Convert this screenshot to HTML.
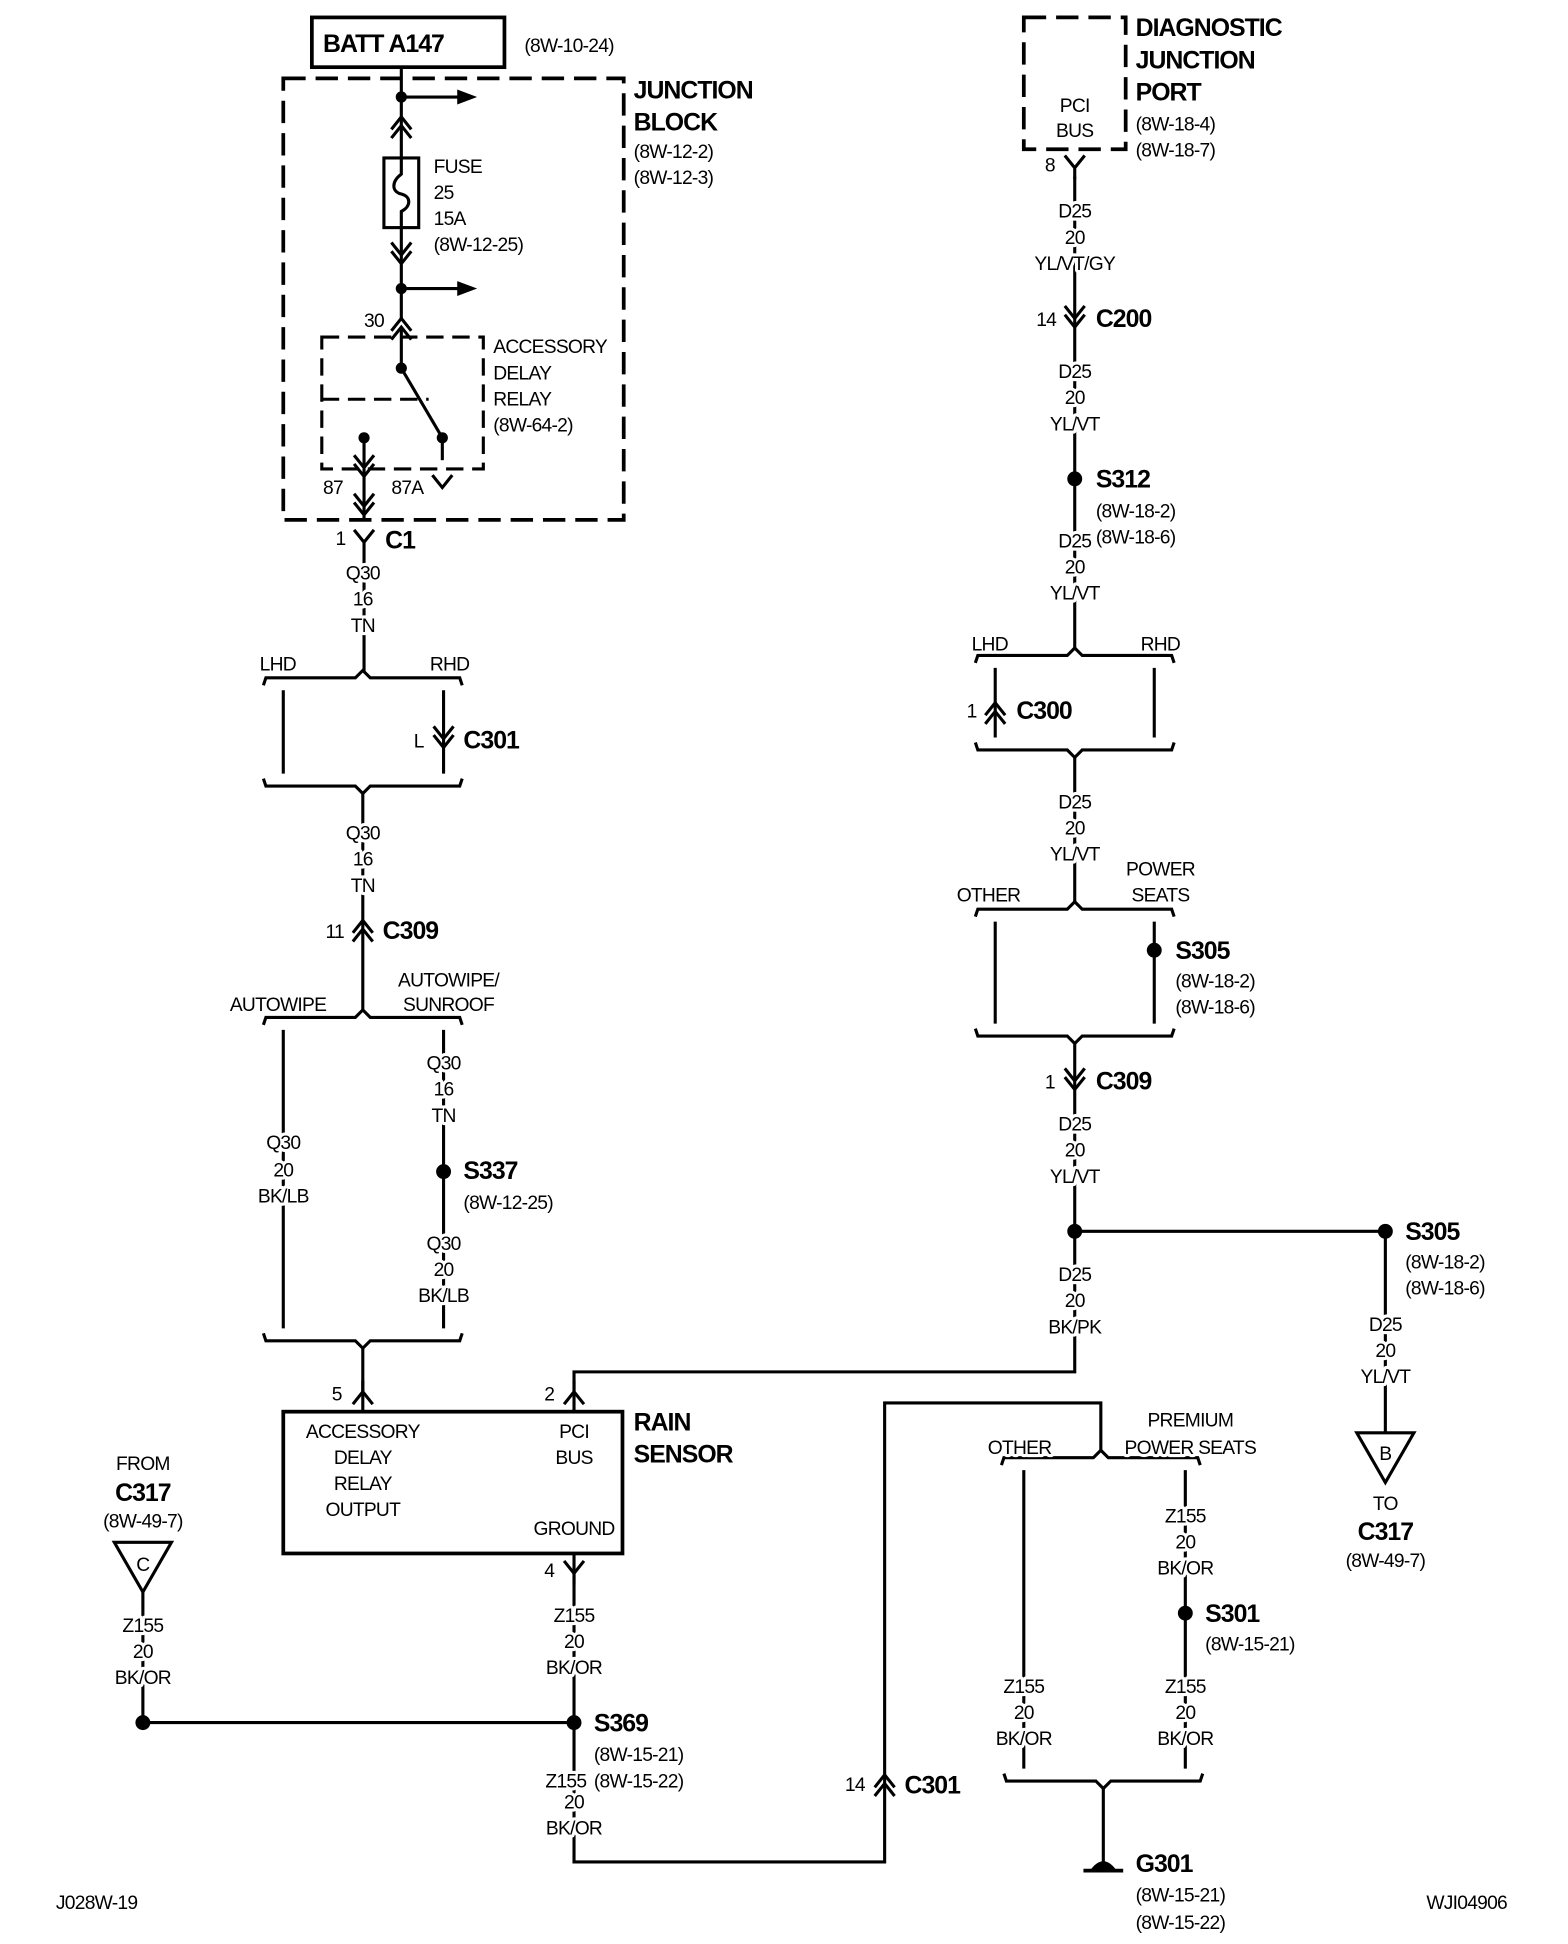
<!DOCTYPE html>
<html><head><meta charset="utf-8"><style>
html,body{margin:0;padding:0;background:#fff;}
svg{display:block;}
text{font-family:"Liberation Sans",Arial,sans-serif;font-size:15.5px;fill:#000;paint-order:stroke;stroke:#fff;stroke-width:5px;stroke-linejoin:round;letter-spacing:-0.6px;}
text.b{font-weight:bold;font-size:20px;letter-spacing:-0.8px;}
.c{text-anchor:middle;}
.w{fill:none;stroke:#000;stroke-width:2.5;}
.t{fill:none;stroke:#000;stroke-width:3;}
</style></head><body>
<svg width="1568" height="1944" viewBox="0 0 1262 1563" preserveAspectRatio="none" xmlns="http://www.w3.org/2000/svg">
<defs>
<g id="dup"><path class="w" d="M-8,4 L0,-6 L8,4 M-8,11 L0,1 L8,11"/></g>
<g id="ddn"><path class="w" d="M-8,-4 L0,6 L8,-4 M-8,-11 L0,-1 L8,-11"/></g>
<g id="yc"><path class="w" d="M-8,-7 L0,3 L8,-7 M0,3 L0,12"/></g>
<g id="yu"><path class="w" d="M-8,7 L0,-3 L8,7 M0,-3 L0,-12"/></g>
<g id="brT"><path class="w" d="M-80,6 L-78,0 L-6,0 L0,-6 L6,0 L78,0 L80,6"/></g>
<g id="brB"><path class="w" d="M-80,-6 L-78,0 L-6,0 L0,6 L6,0 L78,0 L80,-6"/></g>
</defs>

<rect x="251" y="14" width="155" height="40" class="t"/>
<text class="b" x="260" y="42">BATT A147</text>
<text x="422" y="42">(8W-10-24)</text>
<rect x="228" y="63" width="274" height="355" fill="none" stroke="#000" stroke-width="3" stroke-dasharray="18,8"/>
<text class="b" x="510" y="79">JUNCTION</text>
<text class="b" x="510" y="105">BLOCK</text>
<text x="510" y="127">(8W-12-2)</text>
<text x="510" y="148">(8W-12-3)</text>

<line class="w" x1="323" y1="54" x2="323" y2="127"/>
<circle cx="323" cy="78" r="4.5"/>
<line class="w" x1="323" y1="78" x2="370" y2="78"/><path d="M368,72 L384,78 L368,84Z"/>
<use href="#dup" x="323" y="100"/>
<rect x="309" y="127" width="28" height="56" class="w" fill="#fff"/>
<path class="w" d="M323,127 L323,140 C315,146 315,154 323,156 C331,158 331,166 323,170 L323,183"/>
<text x="349" y="139">FUSE</text><text x="349" y="160">25</text><text x="349" y="181">15A</text><text x="349" y="202">(8W-12-25)</text>
<line class="w" x1="323" y1="183" x2="323" y2="258"/>
<use href="#ddn" x="323" y="206"/>
<circle cx="323" cy="232" r="4.5"/>
<line class="w" x1="323" y1="232" x2="370" y2="232"/><path d="M368,226 L384,232 L368,238Z"/>
<use href="#dup" x="323" y="262"/>
<text x="293" y="263">30</text>
<rect x="259" y="271" width="130" height="106" fill="none" stroke="#000" stroke-width="2.5" stroke-dasharray="14,7"/>
<line class="w" x1="323" y1="265" x2="323" y2="296"/>
<circle cx="323" cy="296" r="4.5"/>
<line class="w" x1="323" y1="296" x2="356" y2="352"/>
<line x1="259" y1="321" x2="345" y2="321" stroke="#000" stroke-width="2.5" stroke-dasharray="14,7"/>
<circle cx="293" cy="352" r="4.5"/><circle cx="356" cy="352" r="4.5"/>
<line class="w" x1="293" y1="352" x2="293" y2="418"/>
<line class="w" x1="356" y1="352" x2="356" y2="370"/>
<use href="#ddn" x="293" y="377"/>
<path class="w" d="M348,382 L356,392 L364,382"/>
<text x="260" y="397">87</text><text x="315" y="397">87A</text>
<text x="397" y="284">ACCESSORY</text><text x="397" y="305">DELAY</text><text x="397" y="326">RELAY</text><text x="397" y="347">(8W-64-2)</text>
<use href="#ddn" x="293" y="408"/>
<use href="#yc" x="293" y="433"/>
<text x="270" y="438">1</text><text class="b" x="310" y="441">C1</text>
<line class="w" x1="293" y1="445" x2="293" y2="540"/>
<text class="c" x="292" y="466">Q30</text><text class="c" x="292" y="487">16</text><text class="c" x="292" y="508">TN</text>

<use href="#brT" x="292" y="545"/>
<text x="209" y="539">LHD</text><text x="346" y="539">RHD</text>
<line class="w" x1="228" y1="555" x2="228" y2="622"/>
<line class="w" x1="357" y1="555" x2="357" y2="622"/>
<use href="#ddn" x="357" y="595"/>
<text x="333" y="601">L</text><text class="b" x="373" y="602">C301</text>
<use href="#brB" x="292" y="632"/>
<line class="w" x1="292" y1="638" x2="292" y2="812"/>
<text class="c" x="292" y="675">Q30</text><text class="c" x="292" y="696">16</text><text class="c" x="292" y="717">TN</text>
<use href="#dup" x="292" y="746"/>
<text x="262" y="754">11</text><text class="b" x="308" y="755">C309</text>
<use href="#brT" x="292" y="818"/>
<text x="185" y="813">AUTOWIPE</text>
<text class="c" x="361" y="793">AUTOWIPE/</text><text class="c" x="361" y="813">SUNROOF</text>
<line class="w" x1="228" y1="828" x2="228" y2="1068"/>
<line class="w" x1="357" y1="828" x2="357" y2="1068"/>
<text class="c" x="228" y="924">Q30</text><text class="c" x="228" y="946">20</text><text class="c" x="228" y="967">BK/LB</text>
<text class="c" x="357" y="860">Q30</text><text class="c" x="357" y="881">16</text><text class="c" x="357" y="902">TN</text>
<circle cx="357" cy="942" r="6"/>
<text class="b" x="373" y="948">S337</text><text x="373" y="972">(8W-12-25)</text>
<text class="c" x="357" y="1005">Q30</text><text class="c" x="357" y="1026">20</text><text class="c" x="357" y="1047">BK/LB</text>
<use href="#brB" x="292" y="1078"/>
<line class="w" x1="292" y1="1084" x2="292" y2="1135"/>
<use href="#yu" x="292" y="1122"/>
<text x="267" y="1126">5</text>

<rect x="228" y="1135" width="273" height="114" class="t"/>
<text class="c" x="292" y="1156">ACCESSORY</text><text class="c" x="292" y="1177">DELAY</text><text class="c" x="292" y="1198">RELAY</text><text class="c" x="292" y="1219">OUTPUT</text>
<text class="c" x="462" y="1156">PCI</text><text class="c" x="462" y="1177">BUS</text><text class="c" x="462" y="1234">GROUND</text>
<text class="b" x="510" y="1150">RAIN</text><text class="b" x="510" y="1176">SENSOR</text>
<path class="w" d="M462,1135 L462,1103 L865,1103 L865,990"/>
<use href="#yu" x="462" y="1122"/>
<text x="438" y="1126">2</text>
<use href="#yc" x="462" y="1262"/>
<text x="438" y="1268">4</text>
<path class="w" d="M462,1249 L462,1497 L712,1497 L712,1128 L886,1128 L886,1166"/>
<text class="c" x="462" y="1304">Z155</text><text class="c" x="462" y="1325">20</text><text class="c" x="462" y="1346">BK/OR</text>
<line class="w" x1="115" y1="1385" x2="462" y2="1385"/>
<circle cx="462" cy="1385" r="6"/><circle cx="115" cy="1385" r="6"/>
<text class="b" x="478" y="1392">S369</text>
<text x="478" y="1416">(8W-15-21)</text>
<text x="439" y="1437">Z155</text><text x="478" y="1437">(8W-15-22)</text>
<text class="c" x="462" y="1454">20</text><text class="c" x="462" y="1475">BK/OR</text>
<use href="#dup" x="712" y="1433"/>
<text x="680" y="1440">14</text><text class="b" x="728" y="1442">C301</text>

<text class="c" x="115" y="1182">FROM</text>
<text class="b c" x="115" y="1207">C317</text>
<text class="c" x="115" y="1228">(8W-49-7)</text>
<path class="w" d="M92,1240 L138,1240 L115,1280Z"/>
<text class="c" x="115" y="1263">C</text>
<line class="w" x1="115" y1="1280" x2="115" y2="1385"/>
<text class="c" x="115" y="1312">Z155</text><text class="c" x="115" y="1333">20</text><text class="c" x="115" y="1354">BK/OR</text>

<use href="#brT" x="886" y="1172"/>
<text x="795" y="1169">OTHER</text>
<text class="c" x="958" y="1147">PREMIUM</text><text class="c" x="958" y="1169">POWER SEATS</text>
<line class="w" x1="824" y1="1182" x2="824" y2="1422"/>
<line class="w" x1="954" y1="1182" x2="954" y2="1422"/>
<text class="c" x="954" y="1224">Z155</text><text class="c" x="954" y="1245">20</text><text class="c" x="954" y="1266">BK/OR</text>
<circle cx="954" cy="1297" r="6"/>
<text class="b" x="970" y="1304">S301</text><text x="970" y="1327">(8W-15-21)</text>
<text class="c" x="954" y="1361">Z155</text><text class="c" x="954" y="1382">20</text><text class="c" x="954" y="1403">BK/OR</text>
<text class="c" x="824" y="1361">Z155</text><text class="c" x="824" y="1382">20</text><text class="c" x="824" y="1403">BK/OR</text>
<use href="#brB" x="888" y="1432"/>
<line class="w" x1="888" y1="1438" x2="888" y2="1500"/>
<path d="M878,1503 Q888,1490 898,1503Z"/>
<line x1="872" y1="1504" x2="904" y2="1504" stroke="#000" stroke-width="3"/>
<text class="b" x="914" y="1505">G301</text>
<text x="914" y="1529">(8W-15-21)</text><text x="914" y="1551">(8W-15-22)</text>

<rect x="824" y="14" width="82" height="106" fill="none" stroke="#000" stroke-width="3" stroke-dasharray="18,8"/>
<text class="c" x="865" y="90">PCI</text><text class="c" x="865" y="110">BUS</text>
<text class="b" x="914" y="29">DIAGNOSTIC</text><text class="b" x="914" y="55">JUNCTION</text><text class="b" x="914" y="81">PORT</text>
<text x="914" y="105">(8W-18-4)</text><text x="914" y="126">(8W-18-7)</text>
<use href="#yc" x="865" y="132"/>
<text x="841" y="138">8</text>
<line class="w" x1="865" y1="142" x2="865" y2="522"/>
<text class="c" x="865" y="175">D25</text><text class="c" x="865" y="196">20</text><text class="c" x="865" y="217">YL/VT/GY</text>
<use href="#ddn" x="865" y="257"/>
<text x="834" y="262">14</text><text class="b" x="882" y="263">C200</text>
<text class="c" x="865" y="304">D25</text><text class="c" x="865" y="325">20</text><text class="c" x="865" y="346">YL/VT</text>
<circle cx="865" cy="385" r="6"/>
<text class="b" x="882" y="392">S312</text><text x="882" y="416">(8W-18-2)</text><text x="882" y="437">(8W-18-6)</text>
<text class="c" x="865" y="440">D25</text><text class="c" x="865" y="461">20</text><text class="c" x="865" y="482">YL/VT</text>
<use href="#brT" x="865" y="527"/>
<text x="782" y="523">LHD</text><text x="918" y="523">RHD</text>
<line class="w" x1="801" y1="537" x2="801" y2="593"/>
<line class="w" x1="929" y1="537" x2="929" y2="593"/>
<use href="#dup" x="801" y="571"/>
<text x="778" y="577">1</text><text class="b" x="818" y="578">C300</text>
<use href="#brB" x="865" y="603"/>
<line class="w" x1="865" y1="609" x2="865" y2="726"/>
<text class="c" x="865" y="650">D25</text><text class="c" x="865" y="671">20</text><text class="c" x="865" y="692">YL/VT</text>
<use href="#brT" x="865" y="731"/>
<text x="770" y="725">OTHER</text>
<text class="c" x="934" y="704">POWER</text><text class="c" x="934" y="725">SEATS</text>
<line class="w" x1="801" y1="741" x2="801" y2="823"/>
<line class="w" x1="929" y1="741" x2="929" y2="823"/>
<circle cx="929" cy="764" r="6"/>
<text class="b" x="946" y="771">S305</text><text x="946" y="794">(8W-18-2)</text><text x="946" y="815">(8W-18-6)</text>
<use href="#brB" x="865" y="833"/>
<line class="w" x1="865" y1="839" x2="865" y2="990"/>
<use href="#ddn" x="865" y="870"/>
<text x="841" y="875">1</text><text class="b" x="882" y="876">C309</text>
<text class="c" x="865" y="909">D25</text><text class="c" x="865" y="930">20</text><text class="c" x="865" y="951">YL/VT</text>
<circle cx="865" cy="990" r="6"/>
<line class="w" x1="865" y1="990" x2="1115" y2="990"/>
<circle cx="1115" cy="990" r="6"/>
<text class="b" x="1131" y="997">S305</text><text x="1131" y="1020">(8W-18-2)</text><text x="1131" y="1041">(8W-18-6)</text>
<text class="c" x="865" y="1030">D25</text><text class="c" x="865" y="1051">20</text><text class="c" x="865" y="1072">BK/PK</text>
<line class="w" x1="1115" y1="990" x2="1115" y2="1152"/>
<text class="c" x="1115" y="1070">D25</text><text class="c" x="1115" y="1091">20</text><text class="c" x="1115" y="1112">YL/VT</text>
<path class="w" d="M1092,1152 L1138,1152 L1115,1192Z"/>
<text class="c" x="1115" y="1174">B</text>
<text class="c" x="1115" y="1214">TO</text>
<text class="b c" x="1115" y="1238">C317</text>
<text class="c" x="1115" y="1260">(8W-49-7)</text>

<text x="45" y="1535">J028W-19</text>
<text x="1148" y="1535">WJI04906</text>
</svg>
</body></html>
